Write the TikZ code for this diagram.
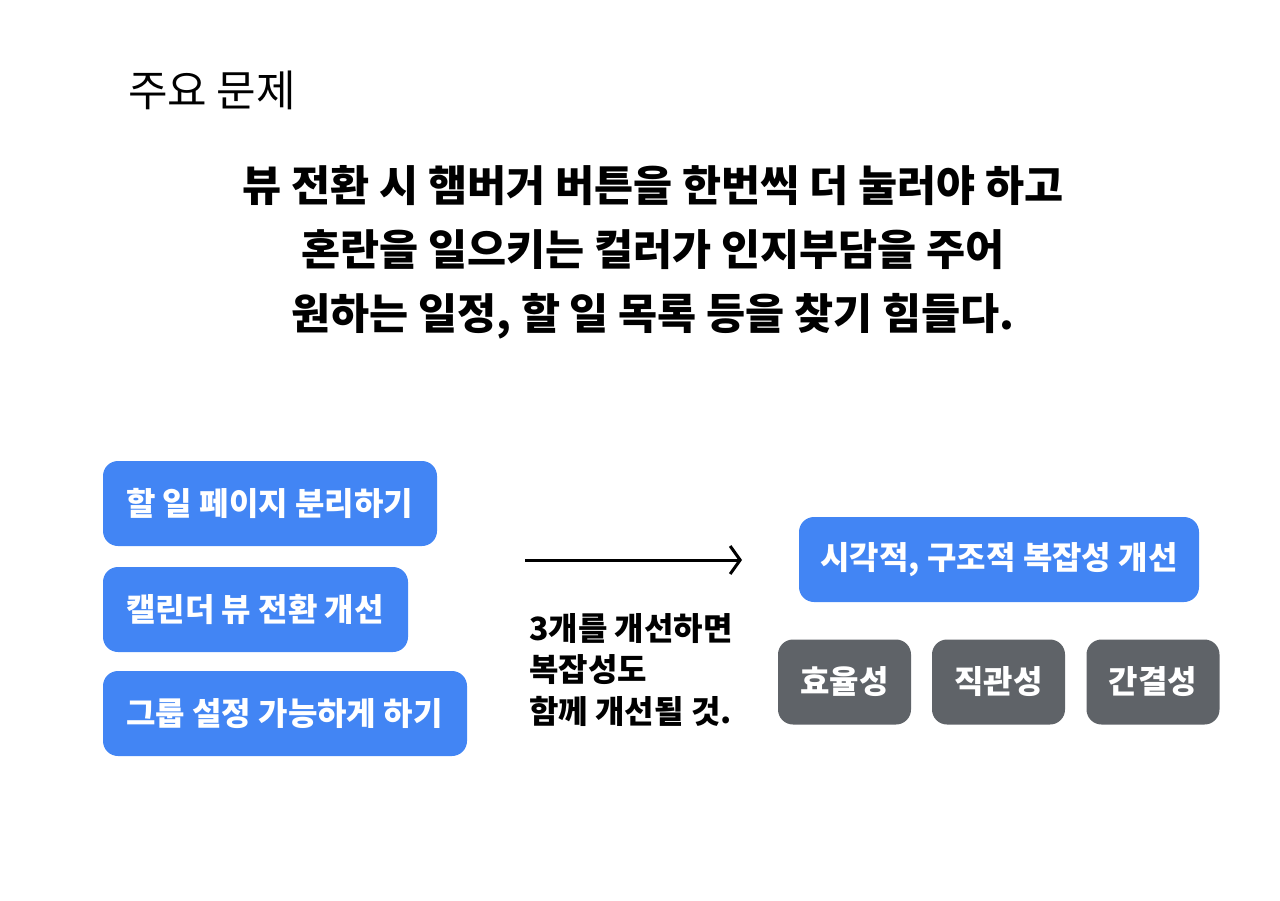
\documentclass[tikz,border=0pt]{standalone}
\usepackage{fontspec}
\setmainfont{Noto Sans CJK KR}
\usetikzlibrary{arrows.meta}
\definecolor{bluebox}{HTML}{4285F4}
\definecolor{graybox}{HTML}{5F6368}
\begin{document}
\begin{tikzpicture}[x=1pt,y=-1pt,
  bluestep/.style={fill=bluebox,rounded corners=15pt,inner sep=0pt,minimum height=85pt},
  boxtext/.style={text=white,font=\fontsize{32}{38}\selectfont\bfseries},
  graystep/.style={fill=graybox,rounded corners=15pt,text=white,font=\fontsize{32}{38}\selectfont\bfseries,inner sep=0pt,minimum width=133pt,minimum height=85pt}]
\useasboundingbox (0,0) rectangle (1280,900);
\node[anchor=west,inner sep=0pt,font=\fontsize{43}{50}\selectfont] (title) at (128,90) {주요 문제};
\node[align=center,font=\fontsize{42.5}{64}\selectfont\bfseries] (main) at (653,252)
  {뷰 전환 시 햄버거 버튼을 한번씩 더 눌러야 하고\\혼란을 일으키는 컬러가 인지부담을 주어\\원하는 일정, 할 일 목록 등을 찾기 힘들다.};
\node[bluestep,minimum width=334pt] (b1) at (270,503.5) {};
\node[boxtext,anchor=west,inner sep=0pt] (t1) at (126,503.5) {할 일 페이지 분리하기};
\node[bluestep,minimum width=305pt] (b2) at (255.5,609.5) {};
\node[boxtext,anchor=west,inner sep=0pt] (t2) at (126,609.5) {캘린더 뷰 전환 개선};
\node[bluestep,minimum width=364pt] (b3) at (285,713.5) {};
\node[boxtext,anchor=west,inner sep=0pt] (t3) at (126,713.5) {그룹 설정 가능하게 하기};
\coordinate (as) at (525,560);
\coordinate (ae) at (742,560);
\draw[line width=3pt,-{Straight Barb[length=10pt,width=28pt,line width=3pt]}] (as) -- (ae);
\node[anchor=north west,inner sep=0pt,align=left,font=\fontsize{32}{41.5}\selectfont\bfseries] (note) at (529,613)
  {3개를 개선하면\\복잡성도\\함께 개선될 것.};
\node[bluestep,boxtext,minimum width=400pt] (goal) at (999,559.5) {시각적, 구조적 복잡성 개선};
\node[graystep] (g1) at (844.5,682) {효율성};
\node[graystep] (g2) at (998.5,682) {직관성};
\node[graystep] (g3) at (1153,682) {간결성};
\end{tikzpicture}
\end{document}
